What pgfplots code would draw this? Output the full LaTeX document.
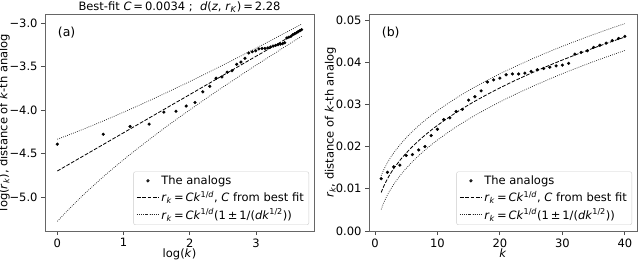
\documentclass[border=0pt]{standalone}
\usepackage{fontspec}
\setmainfont{DejaVu Sans}
\usepackage{pgfplots}
\usepackage{pgfplotstable}
\pgfplotsset{compat=1.18}

\pgfplotstableread{
k r
1 0.0124
2 0.0139
3 0.0152
4 0.0156
5 0.0179
6 0.0181
7 0.0192
8 0.0200
9 0.0226
10 0.0241
11 0.0264
12 0.0268
13 0.0283
14 0.0288
15 0.0310
16 0.0318
17 0.0332
18 0.0353
19 0.0358
20 0.0362
21 0.0370
22 0.0372
23 0.0372
24 0.0374
25 0.0378
26 0.0382
27 0.0385
28 0.0388
29 0.0391
30 0.0393
31 0.0397
32 0.0419
33 0.0423
34 0.0427
35 0.0435
36 0.0440
37 0.0445
38 0.0451
39 0.0456
40 0.0461
}\datab

\pgfplotstableread{
lk lr
0 -4.390
0.6931 -4.276
1.0986 -4.187
1.3863 -4.160
1.6094 -4.023
1.7918 -4.012
1.9459 -3.953
2.0794 -3.912
2.1972 -3.790
2.3026 -3.726
2.3979 -3.634
2.4849 -3.619
2.5649 -3.565
2.6391 -3.547
2.7081 -3.474
2.7726 -3.448
2.8332 -3.405
2.8904 -3.344
2.9444 -3.330
2.9957 -3.319
3.0445 -3.297
3.0910 -3.292
3.1355 -3.292
3.1781 -3.286
3.2189 -3.276
3.2581 -3.265
3.2958 -3.257
3.3322 -3.249
3.3673 -3.242
3.4012 -3.237
3.4340 -3.226
3.4657 -3.172
3.4965 -3.163
3.5264 -3.154
3.5553 -3.135
3.5835 -3.124
3.6109 -3.112
3.6376 -3.099
3.6636 -3.088
3.6889 -3.077
}\dataa

\pgfplotstableread{
k mid up lo
1 0.00911 0.01311 0.00511
1.2 0.00987 0.01382 0.00592
1.5 0.01088 0.01478 0.00698
2 0.01235 0.01618 0.00852
2.5 0.01362 0.01740 0.00984
3 0.01475 0.01848 0.01102
4 0.01673 0.02040 0.01306
5 0.01845 0.02207 0.01483
6 0.01999 0.02357 0.01641
7 0.02139 0.02494 0.01784
8 0.02268 0.02620 0.01916
9 0.02388 0.02737 0.02039
10 0.02501 0.02848 0.02154
12 0.02709 0.03052 0.02366
14 0.02899 0.03239 0.02559
16 0.03074 0.03411 0.02737
18 0.03236 0.03571 0.02901
20 0.03390 0.03723 0.03057
22 0.03534 0.03864 0.03204
25 0.03738 0.04066 0.03410
28 0.03929 0.04255 0.03603
30 0.04050 0.04374 0.03726
32 0.04166 0.04489 0.03843
35 0.04333 0.04654 0.04012
38 0.04492 0.04812 0.04172
40 0.04594 0.04912 0.04276
}\fitb

\pgfplotstableread{
lk mid up lo
0 -4.698 -4.334 -5.275
0.1823 -4.618 -4.281 -5.130
0.4055 -4.520 -4.214 -4.963
0.6931 -4.394 -4.124 -4.765
0.9163 -4.296 -4.051 -4.621
1.0986 -4.216 -3.990 -4.508
1.3863 -4.090 -3.892 -4.338
1.6094 -3.992 -3.813 -4.210
1.7918 -3.912 -3.747 -4.109
1.9459 -3.845 -3.692 -4.026
2.0794 -3.786 -3.642 -3.955
2.1972 -3.734 -3.598 -3.892
2.3026 -3.688 -3.558 -3.837
2.4849 -3.608 -3.489 -3.743
2.6391 -3.541 -3.430 -3.666
2.7726 -3.482 -3.378 -3.598
2.8904 -3.430 -3.332 -3.539
2.9957 -3.384 -3.290 -3.487
3.0910 -3.343 -3.254 -3.441
3.2189 -3.286 -3.202 -3.378
3.3322 -3.237 -3.157 -3.324
3.4012 -3.206 -3.129 -3.289
3.4657 -3.178 -3.103 -3.259
3.5553 -3.139 -3.068 -3.216
3.6376 -3.103 -3.034 -3.177
3.6889 -3.080 -3.013 -3.152
}\fita

\newcommand{\rk}{\textit{r}\textsubscript{\textit{k}}}
\newcommand{\fitlab}{\rk\,=\,\textit{Ck}\textsuperscript{1/\textit{d}}, \textit{C} from best fit}
\newcommand{\bandlab}{\rk\,=\,\textit{Ck}\textsuperscript{1/\textit{d}}(1\,±\,1/(\textit{dk}\textsuperscript{1/2}))}

\pgfplotsset{
  mystyle/.style={
    scale only axis,
    height=217bp,
    font=\fontsize{11.5bp}{13.5bp}\selectfont,
    tick align=outside, xtick pos=bottom, ytick pos=left,
    major tick length=4bp,
    axis line style={black!60, line width=0.8bp},
    every tick/.style={black!70, line width=0.8bp},
    /pgf/number format/assume math mode=true,
    xlabel style={yshift=5bp},
    ylabel style={yshift=-7bp},
    legend cell align=left,
    legend style={at={(1,0)}, anchor=south east, xshift=-5bp, yshift=6bp,
      draw=black!20, rounded corners=2bp, fill=white, fill opacity=0.8, text opacity=1,
      inner xsep=3bp, inner ysep=2bp, row sep=1.5bp,
      font=\fontsize{11.5bp}{13.5bp}\selectfont},
    legend image code/.code={\draw[mark repeat=2,mark phase=2,##1] plot coordinates {(0bp,0bp) (11bp,0bp) (22bp,0bp)};},
  },
  dots/.style={only marks, mark=*, mark size=1.4bp, black},
  dashfit/.style={black, line width=0.8bp, dash pattern=on 3.7bp off 1.6bp},
  dotfit/.style={black!85, line width=0.7bp, dash pattern=on 0.8bp off 1.3bp},
}

\begin{document}
\begin{tikzpicture}
\begin{axis}[mystyle, at={(45bp,31bp)}, anchor=south west, width=269bp,
  xmin=-0.186, xmax=3.876, ymin=-5.386, ymax=-2.897,
  xtick={0,1,2,3},
  ytick={-5,-4.5,-4,-3.5,-3},
  yticklabels={−5.0,−4.5,−4.0,−3.5,−3.0},
  xlabel={log(\textit{k})},
  ylabel={log(\rk), distance of \textit{k}-th analog},
  title={Best-fit \textit{C}\,=\,0.0034 ;\ \ \textit{d}(\textit{z}, \textit{r}\textsubscript{\textit{K}})\,=\,2.28},
  title style={yshift=-8bp},
]
\addplot[dots] table[x=lk, y=lr] {\dataa};
\addlegendentry{The analogs}
\addplot[dashfit] table[x=lk, y=mid] {\fita};
\addlegendentry{\fitlab}
\addplot[dotfit, smooth] table[x=lk, y=up] {\fita};
\addlegendentry{\bandlab}
\addplot[dotfit, smooth, forget plot] table[x=lk, y=lo] {\fita};
\node[anchor=north west, font=\fontsize{12.5bp}{14bp}\selectfont] at (rel axis cs:0.035,0.955) {(a)};
\end{axis}

\begin{axis}[mystyle, at={(369bp,31bp)}, anchor=south west, width=268bp,
  xmin=-0.95, xmax=41.95, ymin=0, ymax=0.0514,
  xtick={0,10,20,30,40},
  ytick={0,0.01,0.02,0.03,0.04,0.05},
  yticklabels={0.00,0.01,0.02,0.03,0.04,0.05},
  scaled y ticks=false,
  xlabel={\textit{k}},
  ylabel={\rk, distance of \textit{k}-th analog},
]
\addplot[dots] table[x=k, y=r] {\datab};
\addlegendentry{The analogs}
\addplot[dashfit, smooth] table[x=k, y=mid] {\fitb};
\addlegendentry{\fitlab}
\addplot[dotfit, smooth] table[x=k, y=up] {\fitb};
\addlegendentry{\bandlab}
\addplot[dotfit, smooth, forget plot] table[x=k, y=lo] {\fitb};
\node[anchor=north west, font=\fontsize{12.5bp}{14bp}\selectfont] at (rel axis cs:0.035,0.955) {(b)};
\end{axis}
\pgfresetboundingbox
\path[use as bounding box] (0,0) rectangle (640bp,262bp);
\end{tikzpicture}
\end{document}
